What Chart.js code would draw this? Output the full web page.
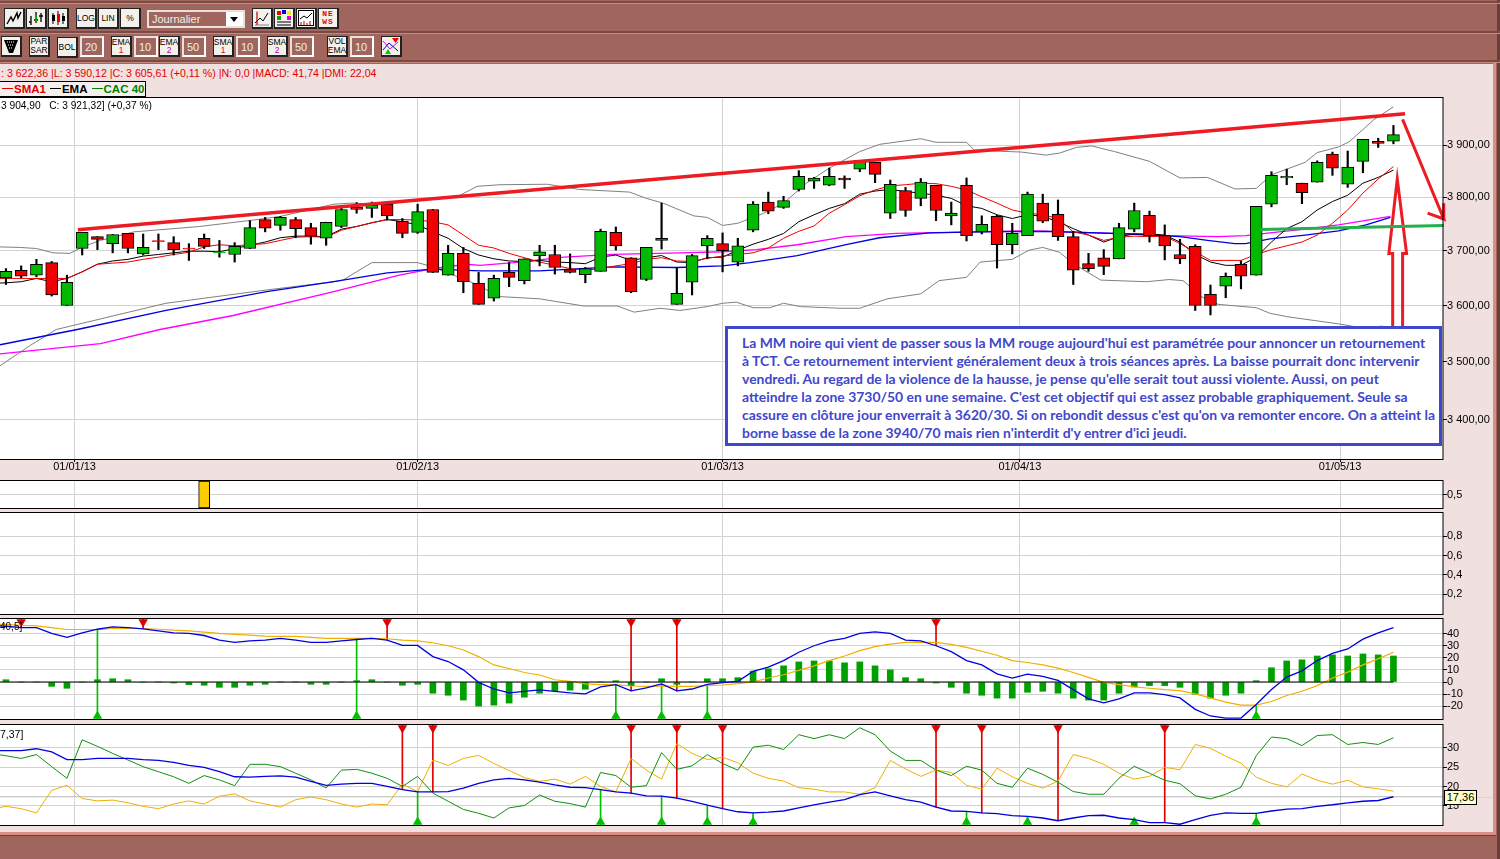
<!DOCTYPE html>
<html lang="fr">
<head>
<meta charset="utf-8">
<title>CAC 40 - Journalier</title>
<script src="https://cdn.jsdelivr.net/npm/chart.js"></script>
<style>
  html, body { margin: 0; padding: 0; }
  body { width: 1500px; height: 859px; position: relative; overflow: hidden; background: #a0665e; font-family: "Liberation Sans", Arial, sans-serif; }
  canvas { position: absolute; left: 0; }
  .band { position: absolute; left: 0; top: 64px; width: 1493px; height: 768px; background: #f0e0e0; }
  .edgeR { position: absolute; left: 1493px; top: 62px; width: 3px; height: 773px; background: #d98f85; }
  .edgeD { position: absolute; left: 0; top: 832px; width: 1496px; height: 3px; background: #d98f85; border-bottom: 1px solid #6b3f39; }
  .edgeK { position: absolute; left: 1497px; top: 0; width: 3px; height: 859px; background: #6b3f39; }
  .rule { position: absolute; left: 0; width: 1500px; height: 2px; background: #7d4a43; border-bottom: 1px solid #c48a80; }
  .btn { position: absolute; box-sizing: border-box; background: #f4f0ec; border: 1px solid #222; border-right: 2px solid #222; border-bottom: 2px solid #222; font: 8.5px/9px "Liberation Sans", sans-serif; text-align: center; color: #000; display: flex; align-items: center; justify-content: center; }
  .btn small { font-size: 8.5px; display: block; line-height: 7px; }
  .inp { position: absolute; box-sizing: border-box; background: #a0665e; border: 2px solid #e8e0dc; border-right-color: #fff; border-bottom-color: #fff; color: #eee; font-size: 11px; line-height: 18px; padding-left: 3px; }
  .txt { position: absolute; white-space: nowrap; font-size: 11px; }
  #note { position: absolute; left: 725px; top: 326px; width: 717px; height: 120px; box-sizing: border-box; border: 3px solid #3f48cc; background: #fff; color: #3f48cc; font: bold 13.95px/17.9px Lato, sans-serif; padding: 5px 0 0 14px; white-space: nowrap; }
  #tip { position: absolute; left: 1444px; top: 790px; width: 33px; height: 15px; box-sizing: border-box; background: #ffffc8; border: 1px solid #000; font-size: 11px; line-height: 13px; text-align: center; }
  #tipLine { position: absolute; left: 1477px; top: 797px; width: 16px; height: 1px; background: #dcd4d4; }
  #legend { position: absolute; left: -1px; top: 81px; width: 147px; height: 16px; box-sizing: border-box; background: #f6efef; border: 1px solid #000; font: bold 11.5px/14px "Liberation Sans", sans-serif; white-space: nowrap; }
  #legend i { display: inline-block; width: 11px; height: 1px; vertical-align: 4px; margin-left: 4px; margin-right: 1px; }
</style>
</head>
<body>
<div class="band"></div>
<div class="edgeR"></div><div class="edgeD"></div><div class="edgeK"></div>
<div class="rule" style="top:1px"></div>
<div class="rule" style="top:31px"></div>
<div class="rule" style="top:60px"></div>
<div id="toolbar"></div>

<div class="txt" style="left:1px;top:67px;color:#e00000;font-size:10.6px">: 3 622,36 |L: 3 590,12 |C: 3 605,61 (+0,11 %) |N: 0,0 |MACD: 41,74 |DMI: 22,04</div>
<div id="legend"><i style="background:#e00000;margin-left:2px"></i><span style="color:#e00000">SMA1</span><i style="background:#000"></i><span style="color:#000">EMA</span><i style="background:#008000"></i><span style="color:#008000">CAC 40</span></div>

<canvas id="mainChart" style="top:97px"></canvas>
<canvas id="alertChart" style="top:480px"></canvas>
<canvas id="volChart" style="top:512px"></canvas>
<canvas id="macdChart" style="top:618px"></canvas>
<canvas id="dmiChart" style="top:724px"></canvas>

<div class="txt" style="left:1px;top:100px;color:#000;font-size:10.2px">3 904,90 &nbsp;&nbsp;C: 3 921,32] (+0,37 %)</div>
<div class="txt" style="left:0;top:621px;color:#000;font-size:10px">40,5]</div>
<div class="txt" style="left:0;top:728px;color:#000;font-size:10.5px">7,37]</div>
<div id="tip">17,36</div><div id="tipLine"></div>
<div id="note">La MM noire qui vient de passer sous la MM rouge aujourd'hui est paramétrée pour annoncer un retournement<br>à TCT. Ce retournement intervient généralement deux à trois séances après. La baisse pourrait donc intervenir<br>vendredi. Au regard de la violence de la hausse, je pense qu'elle serait tout aussi violente. Aussi, on peut<br>atteindre la zone 3730/50 en une semaine. C'est cet objectif qui est assez probable graphiquement. Seule sa<br>cassure en clôture jour enverrait à 3620/30. Si on rebondit dessus c'est qu'on va remonter encore. On a atteint la<br>borne basse de la zone 3940/70 mais rien n'interdit d'y entrer d'ici jeudi.</div>

<script>
// ---- data ----
const opens = [3650,3664,3655,3678,3600,3704,3726,3713,3732,3694,3718.5,3715,3705,3723,3696,3693,3704,3758,3747,3758,3743,3723,3745,3781,3779,3787,3755,3734,3777,3655,3695,3640,3613,3660,3645,3691,3693,3665,3656,3662,3734,3687,3647,3723,3602,3642,3709,3713,3679,3738,3791,3781,3815,3831,3823,3837,3854,3867,3770,3813,3798,3823,3765,3823,3735,3764,3711,3728,3789,3768,3726,3676,3687,3685,3740,3766,3728,3693,3708,3620,3635,3675,3655,3787,3837,3827,3829,3883,3825,3869,3908,3908];
const highs = [3667,3672,3684,3680,3655,3734,3726,3730,3732,3731,3731,3726,3713,3731,3719,3715,3756,3762,3764,3762,3751,3753,3782,3790,3791,3792,3760,3787,3777,3710,3706,3660,3655,3678,3685,3710,3710,3694,3669,3740,3744,3687,3706,3789,3669,3693,3728,3733,3723,3792,3810,3802,3851,3838,3856,3841,3871,3867,3833,3819,3836,3823,3791,3837,3765,3766,3751,3810,3806,3795,3736,3695,3702,3751,3789,3774,3748,3721,3711,3637,3659,3681,3783,3849,3854,3827,3870,3887,3889,3912,3914,3939];
const lows = [3638,3650,3652,3617,3600,3692,3702,3696,3696,3692,3702,3692,3682,3704,3688,3679,3704,3735,3738,3724,3712,3710,3743,3770,3762,3757,3724,3732,3660,3655,3623,3602,3608,3634,3639,3672,3657,3659,3641,3662,3701,3623,3645,3703,3602,3619,3685,3661,3672,3735,3769,3779,3812,3817,3822,3817,3849,3828,3760,3764,3784,3756,3748,3718,3731,3668,3694,3728,3752,3719,3638,3662,3656,3685,3735,3716,3683,3676,3591,3583,3614,3630,3655,3782,3824,3788,3829,3842,3819,3847,3896,3903];
const closes = [3662,3653,3675,3619,3642,3734,3721,3730,3704,3706,3716.5,3702,3703,3708,3698,3708,3743,3742,3762,3741,3727,3753,3777,3777,3785,3765,3732,3773,3660,3695,3643,3602,3649,3651,3685,3698,3669,3660,3667,3736,3709,3625,3706,3719,3622,3691,3723,3700,3709,3787,3774,3794,3840,3837,3840,3833,3871,3844,3825,3775,3829,3775,3770,3728,3749,3711,3732,3806,3755,3726,3664,3667,3671,3743,3775,3728,3709,3685,3600,3600,3653,3653,3783,3842,3840,3809,3867,3856,3858,3912,3904,3921];
const flatCandles = [10, 12, 14];

// one value per candle, the first value is the line coming in from the left edge
const sma1 = [3649,3649,3649,3649,3649,3649,3661,3675,3677,3679,3684,3688,3693,3697,3707,3711,3709,3711,3713,3719,3725,3726,3725,3738,3745,3752,3758,3758,3757,3754,3748,3729,3710,3705,3695,3687,3679,3673,3667,3664,3667,3672,3676,3684,3687,3681,3680,3686,3690,3693,3696,3705,3723,3736,3746,3770,3786,3803,3814,3822,3824,3827,3826,3821,3814,3801,3789,3776,3770,3767,3760,3735,3729,3719,3725,3727,3726,3727,3713,3698,3682,3682,3682,3693,3702,3709,3716,3729,3751,3776,3808,3835,3859];
const ema1 = [3640,3641,3643,3649,3643,3649,3661,3675,3681,3684,3690,3693,3696,3699,3699,3698,3704,3710,3716,3724,3727,3727,3726,3740,3745,3752,3758,3754,3748,3735,3723,3704,3692,3685,3681,3680,3682,3679,3678,3676,3688,3692,3682,3687,3691,3679,3678,3687,3688,3701,3712,3721,3732,3754,3767,3779,3788,3806,3812,3815,3811,3808,3804,3798,3784,3779,3767,3760,3767,3764,3754,3741,3729,3716,3726,3731,3731,3729,3716,3693,3679,3673,3673,3688,3716,3741,3754,3776,3792,3804,3827,3838,3852];

// slower lines, read where they bend: candle position and value
const ema2At = [-0.39,4.68,10.5,17.1,21.5,25,28,31.1,35,39.8,44,47,48.8,51.9,55.1,57.3,60.6,63.9,68.2,73.9,77,78.8,80.6,81.3,82.9,85.2,87.4,89.2,90.8];
const ema2 = [3530,3557,3591,3625,3643,3659,3666,3663,3663,3670,3669,3672,3678,3691,3711,3724,3733,3735,3736,3731,3726,3719,3713,3713,3722,3729,3737,3748,3762];
const sma2At = [-0.39,6.2,10.1,14.9,21.5,25.8,28,30.2,31.1,33.3,36.6,39.8,44.2,47,49.2,51.9,55.1,58.4,63.5,67.1,71.6,76.1,79.5,81.3,82.9,85.2,87.4,90.8];
const sma2 = [3514,3532,3557,3582,3625,3655,3667,3675,3673,3678,3688,3693,3696,3698,3702,3711,3726,3732,3735,3737,3733,3728,3726,3728,3733,3740,3748,3764];
const bollUpAt = [-0.39,0.9,2,3.1,4.2,5.1,6.2,8.4,12.7,16.2,18,21.5,22.6,24.7,28,29.6,30.9,32.4,35.5,37.6,40.9,42,43.1,45.1,46,47,48,49.7,51,52.5,54,56,57.3,60,61,63,63.5,64.8,66.6,68.2,69.1,70.2,71.2,72.7,75,77,78.8,80.6,82,83,85.2,86,87.4,88.1,89.7,91];
const bollUp = [3707,3706,3704,3696,3695,3708,3719,3735,3745,3757,3764,3787,3789,3787,3797,3801,3821,3824,3825,3815,3810,3798,3789,3765,3762,3747,3751,3770,3789,3827,3856,3888,3902,3913,3906,3906,3891,3889,3887,3881,3885,3896,3899,3888,3869,3837,3838,3816,3817,3843,3867,3886,3897,3907,3950,3976];
const bollDownAt = [-0.39,1.6,3.3,10.5,17.1,21.5,22.1,24,27,28,30.7,32.4,35,37.9,40.1,41.2,42.9,44.2,46,47,47.9,49,50.1,51,52.1,54.7,56,57.8,60,61.2,63,63.9,66,67.1,68,69.1,70,71.8,74.8,76.3,77.2,78.4,79.5,82,82.9,84,87.4,88.9,90.3];
const bollDown = [3493,3529,3557,3604,3628,3643,3646,3678,3678,3670,3640,3616,3612,3599,3599,3588,3595,3591,3598,3604,3606,3596,3596,3604,3598,3595,3595,3612,3621,3645,3651,3679,3684,3701,3706,3697,3676,3646,3643,3647,3645,3616,3602,3596,3586,3580,3567,3560,3563];

// hand drawn marks of the author, in candle position and price
const trendAt = [4.72, 91.76];
const trendVal = [3739, 3962];
const arrowDownAt = [91.6, 94.3, 93.24, 94.3, 94.3];
const arrowDownVal = [3951, 3759, 3770, 3759, 3789];
const supportAt = [82.3, 94.3];
const supportVal = [3739.4, 3747];
const hollowAt = [90.95, 90.95, 90.7, 91.25, 91.86, 91.6, 91.6, 90.95];
const hollowVal = [3556, 3695, 3695, 3835, 3695, 3695, 3556, 3556];

const macdHist = [1.9,0,0,-3.6,-5.2,0,1.9,2.7,1.9,0,0,-0.8,-2.2,-2.7,-4.4,-4.4,-2.7,-1.9,0,0,-1.9,-1.9,0,1.1,1.9,0,-2.7,-1.9,-9.3,-11,-15,-20,-19.2,-17.5,-12.6,-9.3,-7.4,-6.8,-6,0,1.1,-3,0,2.7,-1.9,0,2.7,2.7,3.6,9,11,13.4,16.7,17.5,17.5,15.9,16.7,13.4,10.1,3.6,2.7,-0.8,-4.4,-9.3,-11,-13.4,-13.4,-8.5,-7.7,-9.3,-13.4,-15,-15,-9.3,-4.1,-3,-3,-4.4,-10.1,-13.4,-11,-9.3,1.1,11.8,17.5,18.4,21.6,22.5,21.6,23.3,22.5,21.6];
const macdLine = [47.1,46.3,45.2,45.2,40.3,37,40.8,43.8,45.8,45.2,44.1,42.5,40.8,40.3,38.6,34.8,32.9,34.2,34.8,36.2,34.8,32.9,32.9,34.2,35.3,36.2,34.8,30.4,30.4,21.1,17,10.1,-0.3,-5.8,-9,-7.7,-6.6,-7.7,-9,-9.9,-4.1,-2.2,-7.4,-4.9,-1.6,-7.4,-5.8,-1.9,-0.5,0.5,8.8,12.3,17.8,24.7,30.1,34.2,36.2,40.3,41.6,40.3,34.8,34.2,30.1,25.2,17.8,14.2,6.8,3.3,6.6,4.7,1.4,-6.3,-14,-17.3,-14,-9,-9,-10.4,-13.2,-22.7,-28.2,-29.9,-29.9,-18.6,-6.3,4.1,9.3,17.8,23.8,27.4,35.6,40.8,45.2];
const macdSignal = [47.9,47.9,47.1,46.6,45.2,43.6,43.6,43.6,44.4,44.4,44.4,43.8,43,42.5,41.4,40.3,39.5,38.9,38.1,37.8,37.8,37,36.2,36.2,36.2,36.2,35.9,34.8,34.2,32.6,30.1,26.6,21.1,14.2,11.2,7.9,5.8,1.9,0.5,-1.6,-2.2,-2.2,-3.3,-3.6,-3.3,-3.6,-3.6,-3,-2.5,-1.4,0,3.3,6,9.6,13.4,17.8,21.6,26,29.3,31.5,32.9,32.9,32.9,31.2,28.8,25.5,22.2,17.8,16.2,14.2,11.5,7.9,3.8,-0.3,-2.2,-4.1,-5.2,-6.3,-7.1,-9.9,-13.2,-16.7,-19.2,-19.2,-16.2,-11.2,-7.7,-3,3.3,8.2,14.2,19.2,24.7];
const macdSell = [1, 9, 25, 41, 44, 61];
const macdBuy = [6, 23, 40, 43, 46, 82];

const diPlus = [28.5,27.9,27.2,28.2,25.1,22.1,32,30.3,28.5,26.8,25.1,23.8,22.5,20.8,22.8,21.7,20.2,25.7,25.7,25.1,23.4,21.7,19.6,24.2,24.4,23.4,22.1,20,22.6,18.3,16.2,14.1,13.1,11.9,14.5,15.1,17.8,16.2,15.6,14.7,23.6,22.8,19.8,20.2,28.7,24.4,25.3,28.2,25.9,24.2,30.1,30.6,29.5,33.3,32.3,33.3,32.3,35.1,33.3,29.1,26.7,26.7,24.2,22.8,25.2,24.2,20.8,19.8,24.7,23.1,21.1,18.7,18,18,22.1,25.2,23.4,21.6,20.7,17.6,16.8,18,19.8,27.9,32.7,32.3,30.5,33.1,33.3,30.8,31.3,30.8,32.5];
const diMinus = [14.1,14.9,14.3,13.2,19,20.3,16.9,16.3,16.5,15.8,14.9,14.3,15.5,16.3,15.5,17.5,18.1,16.3,15.5,14.7,16.6,17.3,16.6,15.5,14.7,15.5,15.3,20.6,18.7,26.8,25.4,27.2,28,25.9,24.1,22.3,21.3,21.9,20.6,22.6,20,18.6,27.2,24.2,21.9,31,28.5,26.9,27.5,26.1,23.4,22.1,21.4,19.7,19.3,18.6,18.6,18,19.7,26.7,24.5,22.6,24.2,23.6,20.3,19.3,24.7,22.5,20.8,19.6,21.4,28.2,27.2,25.7,23.4,21.9,22.6,24.9,24.3,30.8,29.8,27.8,26,22.4,20.8,19.9,23.2,21.6,20.6,21.6,19.9,19.4,18.8];
const adx = [29.2,29.2,29.2,29.7,28.9,26.9,26.9,27.2,27.2,27.2,26.9,26.7,26.2,25.4,24.9,23.8,22.5,22.4,22.6,22.7,22.4,21.3,20.3,20.6,20.8,20.8,20,19.2,18.6,18.6,18.7,19.6,20.8,21.7,22.1,21.7,21.1,20.4,19.8,19.7,19.2,18.6,18.3,17.6,17.5,17,16.2,15.2,14.3,13.5,13.2,13.4,13.7,14.5,15.3,16,16.6,17.9,18.6,17.6,16.6,16,14.7,13.7,13.6,13.2,13,12.5,12.3,11.9,11.2,11.9,12.5,12.6,11.9,11.5,10.7,10.7,10.3,11.5,12.6,13.2,13.1,13.1,13.7,14.2,14.3,14.9,15.3,15.8,16.2,16.4,17.36];
const dmiSell = [26, 28, 41, 44, 47, 61, 64, 69, 76];
const dmiBuy = [27, 39, 43, 46, 49, 63, 67, 74, 82];

const alertAt = [13];
const alertVal = [1];

const dateTicks = [4.5, 27, 47, 66.5, 87.5];
const dateLabels = ['01/01/13', '01/02/13', '01/03/13', '01/04/13', '01/05/13'];
const priceTicks = [3400, 3500, 3600, 3700, 3800, 3900];
const priceLabels = ['3 400,00', '3 500,00', '3 600,00', '3 700,00', '3 800,00', '3 900,00'];
const volTicks = [0.2, 0.4, 0.6, 0.8];
const macdTicks = [-20, -10, 0, 10, 20, 30, 40];
const dmiTicks = [15, 20, 25, 30];
const dmiCursor = 17.36;

// ---- toolbar ----
const iconLine = '<svg width="16" height="16"><polyline points="1,14 5,7 7,11 11,3 12,8 15,2" fill="none" stroke="#000" stroke-width="1.4"/></svg>';
const iconBars = '<svg width="16" height="16"><path d="M3 6V15M1 12H3M8 2V13M6 10H10M13 3V12M11 6H15" stroke="#000" fill="none" stroke-width="1.3"/><path d="M8 5V12" stroke="#0a0" stroke-width="2"/></svg>';
const iconCand = '<svg width="16" height="16"><path d="M3 3V14M8 1V15M13 3V14" stroke="#000"/><rect x="2" y="5" width="3" height="6" fill="#000"/><rect x="7" y="4" width="3" height="8" fill="#e00"/><rect x="12" y="6" width="3" height="5" fill="#000"/></svg>';
const iconPlot = '<svg width="16" height="16"><path d="M1 15H15M3 1V15" stroke="#888"/><path d="M1 13L6 8 9 11 14 3" stroke="#000" fill="none"/><path d="M3 2V15" stroke="#e00"/></svg>';
const iconPal = '<svg width="16" height="16"><rect x="1" y="1" width="4" height="4" fill="#e00"/><rect x="6" y="0" width="4" height="4" fill="#00d"/><rect x="11" y="1" width="4" height="4" fill="#ee0"/><rect x="1" y="6" width="4" height="4" fill="#0a0"/><rect x="11" y="6" width="4" height="4" fill="#d0d"/><path d="M1 12H15M1 15H15" stroke="#000"/></svg>';
const iconArea = '<svg width="16" height="16"><rect x=".5" y=".5" width="15" height="15" fill="#fff" stroke="#000"/><path d="M2 9L6 6 9 8 14 3" stroke="#000" fill="none"/><path d="M3 15V12M6 15V11M9 15V13M12 15V11" stroke="#a00"/></svg>';
const iconNews = '<div style="font:bold 8px/8px \'Liberation Mono\',monospace;color:#e00;letter-spacing:1px">NE<br>WS</div>';
const iconFunnel = '<svg width="16" height="16"><path d="M1 2H15L10 15H6Z" fill="#000"/><path d="M4 4H12M5 7H11M6 10H10" stroke="#fff" stroke-dasharray="1 1"/></svg>';
const iconCross = '<svg width="18" height="18"><path d="M1 4L8 12 16 5" stroke="#d0d" fill="none"/><path d="M1 13L7 6 16 14" stroke="#00d" fill="none"/><path d="M10 1H17L13.5 6Z" fill="#e00"/><path d="M3 17H9L6 12Z" fill="#0c0"/></svg>';
const redSub = t => t + '<small style="color:#e00">1</small>';
const magSub = t => t + '<small style="color:#b0b">2</small>';
const buttons = [
  [4, 8, iconLine], [26, 8, iconBars], [48, 8, iconCand], [76, 8, 'LOG'], [98, 8, 'LIN'], [120, 8, '%'],
  [252, 8, iconPlot], [274, 8, iconPal], [296, 8, iconArea], [318, 8, iconNews],
  [1, 36, iconFunnel], [29, 36, 'PAR<br>SAR'], [57, 37, 'BOL'],
  [111, 36, redSub('EMA')], [159, 36, magSub('EMA')], [213, 36, redSub('SMA')], [267, 36, magSub('SMA')],
  [327, 36, 'VOL<br>EMA'], [381, 36, iconCross]
];
const inputs = [[80, 20], [134, 10], [182, 50], [236, 10], [290, 50], [350, 10]];
const toolbar = document.getElementById('toolbar');
buttons.forEach(b => {
  toolbar.insertAdjacentHTML('beforeend', '<div class="btn" style="left:' + b[0] + 'px;top:' + b[1] + 'px;width:21px;height:21px;flex-direction:column">' + b[2] + '</div>');
});
inputs.forEach(b => {
  toolbar.insertAdjacentHTML('beforeend', '<div class="inp" style="left:' + b[0] + 'px;top:36px;width:24px;height:21px">' + b[1] + '</div>');
});
toolbar.insertAdjacentHTML('beforeend', '<div class="inp" style="left:147px;top:10px;width:98px;height:18px;line-height:14px;border-color:#e8e0dc">Journalier<div style="position:absolute;right:0;top:0;width:17px;height:14px;background:#fff"></div><div style="position:absolute;right:5px;top:5px;border:4px solid transparent;border-top:5px solid #000;border-bottom:0"></div></div>');

// ---- charts ----
const xMin = -0.39, xMax = 94.25;
const upColor = '#00b900', downColor = '#f00000';

const framePlugin = {
  id: 'plotFrame',
  beforeDraw(chart) {
    const a = chart.chartArea, c = chart.ctx;
    c.fillStyle = '#fff';
    c.fillRect(a.left, a.top, a.width, a.height);
  },
  afterDraw(chart) {
    const a = chart.chartArea, c = chart.ctx;
    c.strokeStyle = '#000';
    c.lineWidth = 1;
    c.strokeRect(a.left - 2, a.top - 0.5, a.width + 2, a.height + 1);
  }
};

function track(values) {
  return values.map((y, i) => ({ x: i - 1, y: y }));
}
function pairs(xs, ys) {
  return xs.map((x, i) => ({ x: x, y: ys[i] }));
}
function line(data, color, width, order) {
  return { type: 'line', data: data, borderColor: color, borderWidth: width, pointRadius: 0, tension: 0, fill: false, order: order };
}
function stems(indexes, from, to, color) {
  return { type: 'bar', data: indexes.map(i => ({ x: i, y: [from[i + 1], to] })), backgroundColor: color, barThickness: 1, grouped: false, order: 5 };
}
function marker(indexes, value, color, rotation) {
  return { type: 'line', data: indexes.map(i => ({ x: i, y: value })), showLine: false, pointStyle: 'triangle', pointRadius: 5.5, pointRotation: rotation, pointBackgroundColor: color, pointBorderColor: color, pointBorderWidth: 0, clip: false, order: 4 };
}

function panel(id, height, axisHeight, datasets, yOpts, tickFmt, ticks) {
  const cv = document.getElementById(id);
  cv.width = 1500;
  cv.height = height + axisHeight + 2;
  cv.style.width = '1500px';
  cv.style.height = (height + axisHeight + 2) + 'px';
  return new Chart(cv, {
    type: 'bar',
    data: { datasets: datasets },
    plugins: [framePlugin],
    options: {
      responsive: false,
      animation: false,
      layout: { autoPadding: false, padding: { top: 1, bottom: axisHeight ? 0 : 1, left: 0, right: 0 } },
      plugins: { legend: { display: false }, tooltip: { enabled: false } },
      scales: {
        x: {
          type: 'linear', min: xMin, max: xMax, offset: false, bounds: 'data',
          grid: { offset: false, color: '#d2d2d2', lineWidth: 1, drawTicks: axisHeight > 0, tickColor: '#000', tickLength: 3 },
          border: { display: false },
          ticks: { display: axisHeight > 0, font: { size: 11, family: 'Liberation Sans' }, color: '#000', maxRotation: 0, autoSkip: false, padding: -2, callback: (v, i) => dateLabels[i] },
          afterBuildTicks: s => { s.ticks = dateTicks.map(v => ({ value: v })); },
          afterFit: s => { s.height = axisHeight; s.paddingLeft = 0; s.paddingRight = 0; }
        },
        y: Object.assign({
          position: 'right', bounds: 'data', beginAtZero: false,
          grid: { color: '#d2d2d2', lineWidth: 1, tickColor: '#000', tickLength: 4 },
          border: { display: false },
          ticks: { font: { size: 11, family: 'Liberation Sans' }, color: '#000', autoSkip: false, maxRotation: 0, padding: 0, callback: tickFmt },
          afterBuildTicks: s => { s.ticks = ticks.map(v => ({ value: v })); },
          afterFit: s => { s.width = 57; s.paddingTop = 0; s.paddingBottom = 0; }
        }, yOpts)
      }
    }
  });
}

const candleIdx = opens.map((o, i) => i);
const candleColor = i => (closes[i] >= opens[i] ? upColor : downColor);

panel('mainChart', 360, 22, [
  line(pairs(trendAt, trendVal), '#ed1c24', 3.5, 0),
  Object.assign(line(pairs(arrowDownAt, arrowDownVal), '#ed1c24', 3, 0), { clip: false }),
  Object.assign(line(pairs(supportAt, supportVal), '#22b14c', 3, 0), { clip: false }),
  line(pairs(hollowAt, hollowVal), '#ed1c24', 3, 0),
  {
    type: 'bar', grouped: false, order: 1, barThickness: 12, borderWidth: 1, borderSkipped: false,
    data: candleIdx.map(i => ({ x: i, y: [opens[i], closes[i]] })),
    backgroundColor: candleIdx.map(candleColor),
    borderColor: candleIdx.map(i => (flatCandles.includes(i) ? candleColor(i) : '#000'))
  },
  {
    type: 'bar', grouped: false, order: 2, barThickness: 1.5,
    data: candleIdx.map(i => ({ x: i, y: [lows[i], highs[i]] })),
    backgroundColor: '#000'
  },
  line(track(sma1), '#f00000', 1, 3),
  line(track(ema1), '#000000', 1, 3),
  line(pairs(ema2At, ema2), '#0000e0', 1.3, 4),
  line(pairs(sma2At, sma2), '#ff00ff', 1.3, 4),
  line(pairs(bollUpAt, bollUp), '#808080', 1, 5),
  line(pairs(bollDownAt, bollDown), '#808080', 1, 5)
], { type: 'logarithmic', min: 3334, max: 3993.5 }, v => priceLabels[priceTicks.indexOf(v)], priceTicks);

panel('alertChart', 27, 0, [
  {
    type: 'bar', grouped: false, barThickness: 11, borderWidth: 1, borderSkipped: false, borderColor: '#000', backgroundColor: '#ffcc00',
    data: pairs(alertAt, alertVal).map(p => ({ x: p.x, y: [0, p.y] }))
  }
], { min: 0, max: 1 }, v => '0,5', [0.5]);

panel('volChart', 101, 0, [
  { type: 'line', data: [], borderWidth: 0 }
], { min: -0.005, max: 1.04 }, v => String(v).replace('.', ','), volTicks);

panel('macdChart', 100, 0, [
  line(pairs([-1, 91], [0, 0]), '#000', 1.2, 2),
  line(track(macdLine), '#0000e0', 1.3, 1),
  line(track(macdSignal), '#f0b000', 1.2, 2),
  { type: 'bar', grouped: false, barThickness: 6, order: 3, backgroundColor: '#00a000', data: macdHist.map((v, i) => ({ x: i, y: [0, v] })) },
  stems(macdSell, macdLine, 52.3, '#e00000'),
  stems(macdBuy, macdLine, -30.7, '#00c000'),
  marker(macdSell, 49.8, '#e00000', 180),
  marker(macdBuy, -28.2, '#00c000', 0)
], { min: -30.7, max: 52.3 }, v => String(v), macdTicks);

panel('dmiChart', 100, 0, [
  line(pairs([xMin, xMax], [dmiCursor, dmiCursor]), '#b8b8b8', 1, 6),
  line(track(adx), '#0000e0', 1.3, 1),
  line(track(diPlus), '#109010', 1, 2),
  line(track(diMinus), '#f0b000', 1, 2),
  stems(dmiSell, adx, 35.8, '#e00000'),
  stems(dmiBuy, adx, 10.1, '#00c000'),
  marker(dmiSell, 35, '#e00000', 180),
  marker(dmiBuy, 10.9, '#00c000', 0)
], { min: 10.1, max: 35.8 }, v => String(v), dmiTicks);
</script>
</body>
</html>
